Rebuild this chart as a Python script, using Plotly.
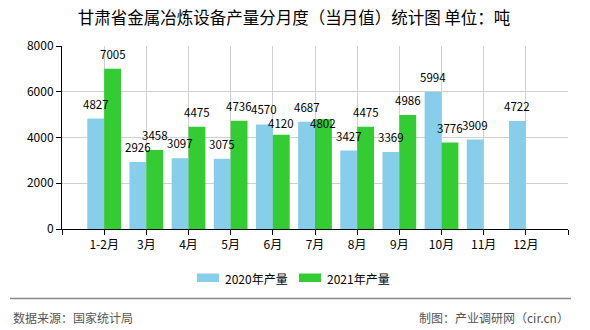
import plotly.graph_objects as go

categories = ["1-2月", "3月", "4月", "5月", "6月", "7月", "8月", "9月", "10月", "11月", "12月"]
values_2020 = [4827, 2926, 3097, 3075, 4570, 4687, 3427, 3369, 5994, 3909, 4722]
values_2021 = [7005, 3458, 4475, 4736, 4120, 4802, 4475, 4986, 3776, None, None]
series_names = ["2020年产量", "2021年产量"]
y_ticks = [0, 2000, 4000, 6000, 8000]

title_text = "甘肃省金属冶炼设备产量分月度（当月值）统计图 单位：吨"
source_text = "数据来源：国家统计局"
credit_text = "制图：产业调研网（cir.cn）"

C2020 = "#87CEEB"
C2021 = "#33CC33"
FONT = "SimSun, 'Noto Sans CJK SC', sans-serif"

# label placement tweaks (pixels), as in the reference where crowded labels were shifted
label_nudge = {(1, "7月"): -19, (1, "6月"): -3}

xpos = list(range(len(categories)))

fig = go.Figure()
fig.add_trace(go.Bar(x=xpos, y=values_2020, name=series_names[0], marker_color=C2020,
                     marker_line_width=0, showlegend=False))
fig.add_trace(go.Bar(x=xpos, y=values_2021, name=series_names[1], marker_color=C2021,
                     marker_line_width=0, showlegend=False))

annotations = []
half = 0.2
for i, (a, b) in enumerate(zip(values_2020, values_2021)):
    for s, (val, off) in enumerate(((a, -half), (b, half))):
        if val is None:
            continue
        annotations.append(dict(x=i + off, y=val, xref="x", yref="y", text=str(val),
                                showarrow=False, yanchor="bottom",
                                yshift=5 + label_nudge.get((s, categories[i]), 0),
                                font=dict(size=11.5, color="#000", family=FONT)))

W, H = 590, 330
L, R, T, B = 62, 22, 46, 101
pw, ph = W - L - R, H - T - B

def px_to_paper_x(px):
    return (px - L) / pw

def px_to_paper_y(py):
    return (H - B - py) / ph

shapes = []
leg_items = [(series_names[0], C2020, 197), (series_names[1], C2021, 299)]
for name, col, x0 in leg_items:
    shapes.append(dict(type="rect", xref="paper", yref="paper",
                       x0=px_to_paper_x(x0), x1=px_to_paper_x(x0 + 22),
                       y0=px_to_paper_y(282), y1=px_to_paper_y(273.5),
                       line_width=0, fillcolor=col))
    annotations.append(dict(x=px_to_paper_x(x0 + 26), y=px_to_paper_y(278), xref="paper", yref="paper",
                            text=name, showarrow=False, xanchor="left", yanchor="middle",
                            font=dict(size=12, color="#000", family=FONT)))

# footer line
shapes.append(dict(type="line", xref="paper", yref="paper",
                   x0=px_to_paper_x(10), x1=px_to_paper_x(571),
                   y0=px_to_paper_y(298.5), y1=px_to_paper_y(298.5),
                   line=dict(color="#888888", width=1.5)))
annotations.append(dict(x=px_to_paper_x(11), y=px_to_paper_y(317), xref="paper", yref="paper",
                        text=source_text, showarrow=False, xanchor="left", yanchor="middle",
                        font=dict(size=12, color="#555", family=FONT)))
annotations.append(dict(x=px_to_paper_x(571), y=px_to_paper_y(317), xref="paper", yref="paper",
                        text=credit_text, showarrow=False, xanchor="right", yanchor="middle",
                        font=dict(size=12, color="#555", family=FONT)))

fig.update_layout(
    width=W, height=H,
    margin=dict(l=L, r=R, t=T, b=B),
    paper_bgcolor="white", plot_bgcolor="white",
    barmode="group", bargap=0.2, bargroupgap=0,
    title=dict(text=title_text, x=294 / W, xref="container", xanchor="center",
               y=1 - 18 / H, yref="container", yanchor="middle",
               font=dict(size=16.5, color="#000", family=FONT)),
    xaxis=dict(range=[-1, len(categories)], tickmode="array",
               tickvals=list(range(-1, len(categories) + 1)),
               ticktext=[""] + categories + [""],
               showgrid=True, gridcolor="#d0d0d0", gridwidth=1,
               showline=True, linecolor="#000", linewidth=1,
               ticks="outside", ticklen=5, tickcolor="#000",
               tickfont=dict(size=12, color="#000", family=FONT), zeroline=False),
    yaxis=dict(range=[0, 8000], tickmode="array", tickvals=y_ticks,
               showgrid=True, gridcolor="#d0d0d0", gridwidth=1,
               showline=True, linecolor="#000", linewidth=1,
               ticks="outside", ticklen=5, tickcolor="#000",
               tickfont=dict(size=12, color="#000", family=FONT), zeroline=False),
    annotations=annotations,
    shapes=shapes,
)

fig.write_html("out.html")
